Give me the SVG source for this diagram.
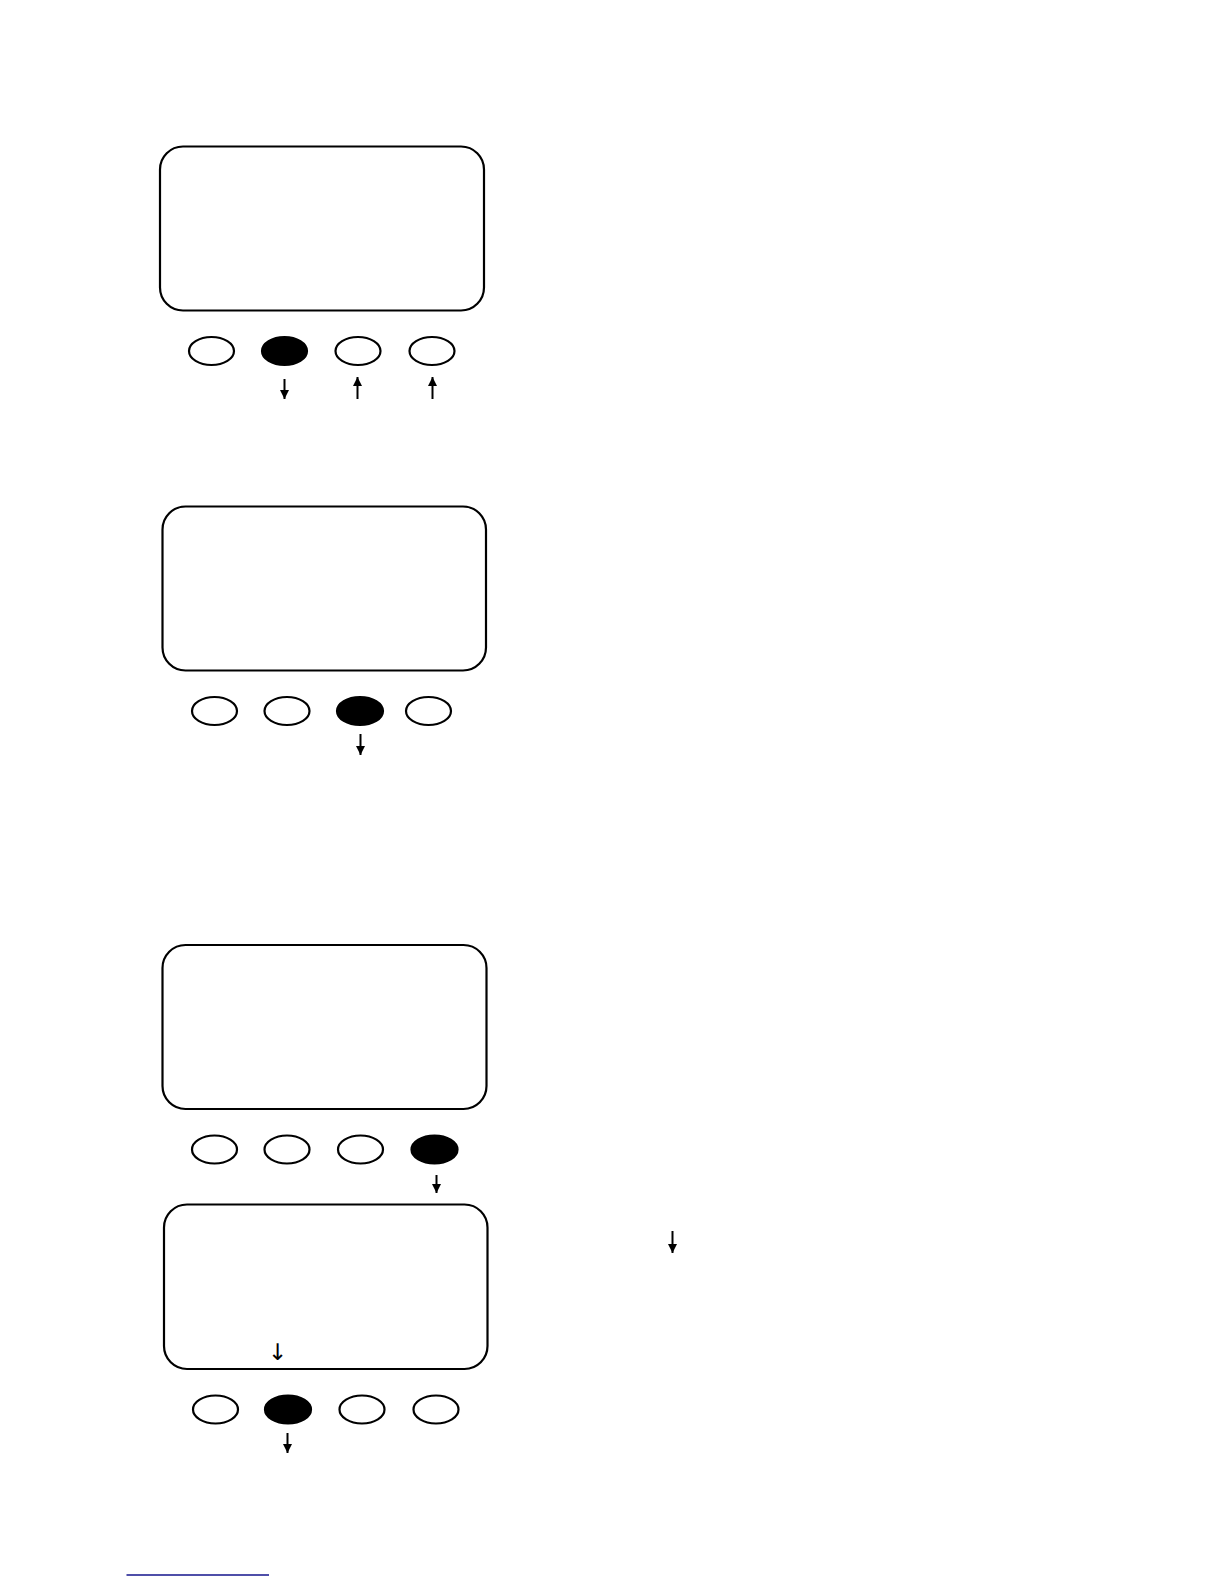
<svg xmlns="http://www.w3.org/2000/svg" width="1224" height="1584" viewBox="0 0 1224 1584">
<style>
.screen{fill:none;stroke:#000;stroke-width:2.2}
.btn{fill:#fff;stroke:#000;stroke-width:2.2}
.btn.on{fill:#000}
.arr{stroke:#000;stroke-width:2;fill:none;marker-end:url(#ah)}
.glyph{font-family:"DejaVu Sans",sans-serif;font-size:23px;fill:#000}
</style>
<defs>
<marker id="ah" viewBox="0 0 10 10" refX="10" refY="5" markerWidth="12" markerHeight="9" markerUnits="userSpaceOnUse" orient="auto">
<path d="M0,0 L10,5 L0,10 z" fill="#000"/>
</marker>
</defs>
<rect width="1224" height="1584" fill="#fff"/>

<g id="panel1">
<rect class="screen" x="160" y="146.5" width="324" height="164" rx="23" ry="23"/>
<ellipse class="btn" cx="211.5" cy="351" rx="22.5" ry="14"/>
<ellipse class="btn on" cx="284.5" cy="351" rx="22.5" ry="14"/>
<ellipse class="btn" cx="358" cy="351" rx="22.5" ry="14"/>
<ellipse class="btn" cx="432" cy="351" rx="22.5" ry="14"/>
</g>

<g id="panel2">
<rect class="screen" x="162.5" y="506.5" width="323.5" height="164" rx="23" ry="23"/>
<ellipse class="btn" cx="214.5" cy="711" rx="22.5" ry="14"/>
<ellipse class="btn" cx="287" cy="711" rx="22.5" ry="14"/>
<ellipse class="btn on" cx="360" cy="711" rx="23" ry="14"/>
<ellipse class="btn" cx="428.5" cy="711" rx="22.5" ry="14"/>
</g>

<g id="panel3">
<rect class="screen" x="162.5" y="945" width="324" height="164" rx="23" ry="23"/>
<ellipse class="btn" cx="214.5" cy="1149.5" rx="22.5" ry="14"/>
<ellipse class="btn" cx="287" cy="1149.5" rx="22.5" ry="14"/>
<ellipse class="btn" cx="360.5" cy="1149.5" rx="22.5" ry="14"/>
<ellipse class="btn on" cx="434.5" cy="1149.5" rx="23" ry="14"/>
</g>

<g id="panel4">
<rect class="screen" x="164" y="1204.5" width="323.5" height="164.5" rx="23" ry="23"/>
<text class="glyph" x="277.5" y="1360" text-anchor="middle">↓</text>
<ellipse class="btn" cx="215.5" cy="1409.5" rx="22.5" ry="14"/>
<ellipse class="btn on" cx="288" cy="1409.5" rx="23" ry="14"/>
<ellipse class="btn" cx="362" cy="1409.5" rx="22.5" ry="14"/>
<ellipse class="btn" cx="436" cy="1409.5" rx="22.5" ry="14"/>
</g>

<g id="connectors">
<line class="arr" x1="284.5" y1="379" x2="284.5" y2="399"/>
<line class="arr" x1="357.5" y1="399" x2="357.5" y2="377"/>
<line class="arr" x1="432.5" y1="399" x2="432.5" y2="377"/>
<line class="arr" x1="360.5" y1="734" x2="360.5" y2="755"/>
<line class="arr" x1="436.5" y1="1175" x2="436.5" y2="1193"/>
<line class="arr" x1="287.5" y1="1433" x2="287.5" y2="1453"/>
<line class="arr" x1="672.5" y1="1231" x2="672.5" y2="1253"/>
</g>

<line x1="126.5" y1="1575" x2="269" y2="1575" stroke="#14148c" stroke-width="1.6"/>
</svg>
